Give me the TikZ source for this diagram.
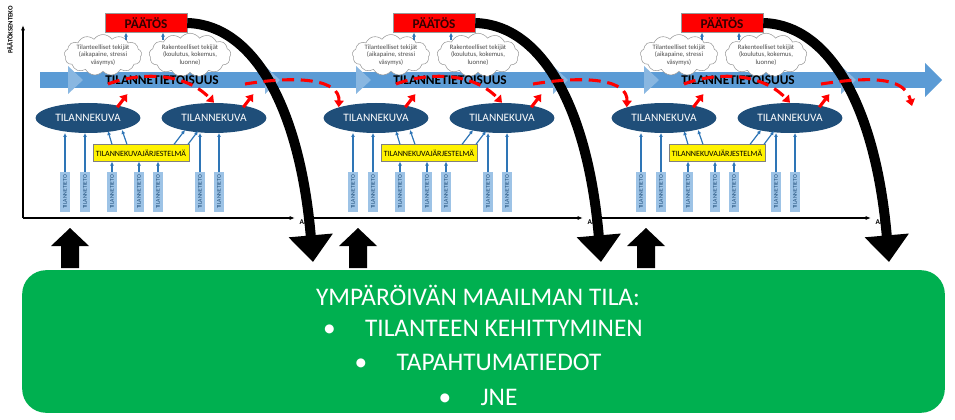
\documentclass[tikz,border=0pt]{standalone}
\usepackage{fontspec}
\setmainfont{Carlito}
\usetikzlibrary{shapes.symbols,shapes.geometric,arrows.meta}
\definecolor{gr}{HTML}{00B050}
\definecolor{band}{HTML}{5B9BD5}
\definecolor{bandl}{HTML}{9DC3E6}
\definecolor{ell}{HTML}{1F4E79}
\definecolor{strip}{HTML}{9DC3E6}
\definecolor{ar}{HTML}{2E75B6}
\tikzset{
 ellnode/.style={ellipse,fill=ell,minimum width=73.5pt,minimum height=22.5pt,text=white,font=\fontsize{8.5}{9}\selectfont},
 yel/.style={draw=black!50,fill=yellow,minimum width=72pt,minimum height=12.5pt,inner sep=0pt,font=\fontsize{6}{7}\selectfont},
 stripbox/.style={fill=strip,minimum width=30pt,minimum height=8pt,inner sep=0pt,rotate=90,font=\fontsize{4.3}{5}\selectfont,text=ell},
 cloudn/.style={cloud,cloud puffs=13,cloud puff arc=110,aspect=2.3,draw=black!40,fill=white,minimum width=58pt,minimum height=28pt,inner sep=0pt,align=center,font=\fontsize{5}{5.6}\selectfont,text=black!70},
 dec/.style={fill=red,draw=black!40,minimum width=61.5pt,minimum height=14pt,inner sep=0pt,font=\bfseries\fontsize{10}{11}\selectfont,text=black!80!red},
 bl/.style={-{Latex[length=3pt,width=3pt]},ar,line width=0.9pt},
 rd/.style={red,line width=2.3pt,dash pattern=on 9pt off 5pt,-{Triangle[length=5pt,width=7pt]}},
 rs/.style={red,line width=2.3pt,-{Triangle[length=5pt,width=7pt]}},
 big/.style={black,line width=7.5pt,-{Triangle[length=20pt,width=32pt]}},
 gtext/.style={text=white,font=\fontsize{19}{21}\selectfont},
}
\begin{document}
\begin{tikzpicture}[x=0.75pt,y=-0.75pt]
\useasboundingbox (0,0) rectangle (955,420);
% band
\fill[band] (40,72) rectangle (925,88);
\fill[band] (925,63) -- (942,80) -- (925,97) -- cycle;
\foreach \h in {68,265,356,553,644,841}{
 \fill[bandl!70!band] (\h,66) -- (\h+15,80) -- (\h,94) -- cycle;}
% axis panel 1 vertical
\draw[-{Latex[length=4pt,width=3pt]},line width=0.8pt] (23,218) -- (23,25);
\node[rotate=90,font=\bfseries\fontsize{5}{6}\selectfont] (ylab) at (10,30) {PÄÄTÖKSENTEKO};
\foreach \o/\p in {0/a,288/b,576/c}{
 \begin{scope}[xshift=\o*0.75pt]
 \draw[-{Latex[length=4pt,width=3pt]},line width=0.8pt] (23,218) -- (295,218);
 \node[font=\bfseries\fontsize{5.5}{6}\selectfont,anchor=west] (aik\p) at (295,222) {AIK};
 \node[dec] (d\p) at (146,23) {PÄÄTÖS};
 \node[cloudn] (c1\p) at (103,55) {Tilanteelliset tekijät\\(aikapaine, stressi\\väsymys)};
 \node[cloudn] (c2\p) at (190,55) {Rakenteelliset tekijät\\(koulutus, kokemus,\\luonne)};
 \draw[bl] (126,40) -- (d\p.south -| 126,0);
 \draw[bl] (163,40) -- (d\p.south -| 163,0);
 \node[font=\bfseries\fontsize{10}{11}\selectfont] (t\p) at (162,80) {TILANNETIETOISUUS};
 \node[ellnode] (e1\p) at (88,118) {TILANNEKUVA};
 \node[ellnode] (e2\p) at (214,118) {TILANNEKUVA};
 \node[yel] (y\p) at (141,153) {TILANNEKUVAJÄRJESTELMÄ};
 \foreach \x/\n in {65/1,85/2,112/3,139/4,158/5,200/6,219/7}{
  \node[stripbox] (s\n\p) at (\x,192) {TILANNETIETO};}
 \draw[bl] (s1\p.east) -- (65,133);
 \draw[bl] (s2\p.east) -- (85,133);
 \draw[bl] (s6\p.east) -- (200,133);
 \draw[bl] (s7\p.east) -- (219,133);
 \draw[bl] (s3\p.east) -- (y\p.south -| 112,0);
 \draw[bl] (s4\p.east) -- (y\p.south -| 139,0);
 \draw[bl] (s5\p.east) -- (y\p.south -| 158,0);
 \draw[bl] (y\p.north -| 112,0) -- (108,131);
 \draw[bl] (y\p.north -| 127,0) -- (122,130);
 \draw[bl] (y\p.north -| 174,0) -- (185,130);
 \draw[bl] (y\p.north -| 188,0) -- (198,131);
 \draw[rs] (e1\p.north east) ++(-8,0) -- ++(10,-13);
 \draw[rs] (e2\p.north east) ++(-8,0) -- ++(10,-13);
 \draw[rd] (108,84) .. controls (140,72) and (185,72) .. (e2\p.north);
 \draw[big] (d\p.east) .. controls (255,25) and (300,110) .. (313,262);
 \end{scope}
 }
\draw[rd] (245,84) .. controls (300,75) and (340,80) .. (e1b.north west);
\draw[rd] (533,84) .. controls (588,75) and (628,80) .. (e1c.north west);
\draw[rd] (821,84) .. controls (880,75) and (905,80) .. (912,106);
% green box
\node[fill=gr,rounded corners=18pt,minimum width=692pt,minimum height=107pt] (g) at (483.5,341.5) {};
\foreach \x/\n in {70/a,358/b,646/c}{
 \fill[black] (\x-9,268) -- (\x-9,246) -- (\x-19,246) -- (\x,228) -- (\x+19,246) -- (\x+9,246) -- (\x+9,268) -- cycle;}
\node[gtext] (l1) at (478,295) {YMPÄRÖIVÄN MAAILMAN TILA:};
\node[gtext] (l2) at (483,328) {•\hspace{22pt}TILANTEEN KEHITTYMINEN};
\node[gtext] (l3) at (478,362) {•\hspace{22pt}TAPAHTUMATIEDOT};
\node[gtext] (l4) at (478,397) {•\hspace{22pt}JNE};
\end{tikzpicture}
\end{document}
